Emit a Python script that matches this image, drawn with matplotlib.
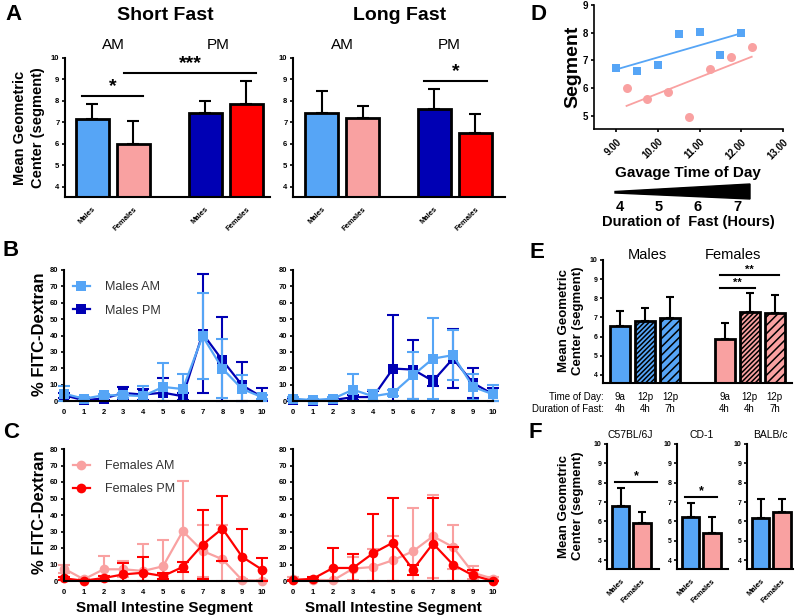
import matplotlib
matplotlib.use("Agg")
import matplotlib.pyplot as plt
import numpy as np
from matplotlib.patches import Polygon

W, H = 800, 616

# ---------------- data ----------------
sex_labels = ["Males", "Females"]
bar_pos = [0, 1, 2.75, 3.75]

# panel A: mean geometric center, short / long fast (AM males, AM females, PM males, PM females)
short_means = [7.15, 6.00, 7.42, 7.85]
short_sd = [0.70, 1.07, 0.58, 1.08]
long_means = [7.42, 7.22, 7.62, 6.50]
long_sd = [1.03, 0.56, 0.93, 0.90]

# panels B/C: % FITC-dextran per small intestine segment
segments = np.arange(11)
b_short_am = [4.5, 1.4, 3.5, 3.5, 3.0, 8.6, 7.3, 39.6, 19.8, 7.3, 2.4]
b_short_am_sd = [4.5, 0.8, 1.0, 1.5, 6.4, 14.7, 9.0, 26.4, 18.0, 8.8, 1.0]
b_short_pm = [3.5, 0.5, 1.5, 4.9, 3.9, 5.1, 2.9, 41.2, 24.9, 9.6, 2.4]
b_short_pm_sd = [1.5, 0.5, 1.0, 3.5, 3.3, 9.2, 2.0, 36.3, 26.5, 14.3, 5.8]
b_long_am = [1.4, 0.6, 1.4, 6.9, 2.9, 4.9, 15.7, 25.9, 28.0, 8.6, 4.1]
b_long_am_sd = [1.0, 0.5, 1.0, 9.8, 4.0, 2.0, 14.5, 24.5, 15.3, 8.1, 5.5]
b_long_pm = [0.6, 0.3, 0.5, 2.4, 2.4, 19.8, 19.2, 12.2, 25.9, 11.0, 4.1]
b_long_pm_sd = [0.5, 0.3, 0.4, 1.5, 3.7, 32.6, 17.9, 3.0, 17.8, 9.2, 4.1]

c_short_am = [7.5, 1.0, 7.1, 7.1, 6.1, 8.9, 30.2, 18.2, 13.2, 0.5, 0.3]
c_short_am_sd = [2.5, 0.5, 7.9, 4.9, 16.6, 16.2, 30.5, 15.6, 21.0, 0.5, 0.3]
c_short_pm = [1.6, 0.2, 1.8, 4.0, 5.0, 3.0, 8.5, 22.0, 31.8, 14.6, 6.9]
c_short_pm_sd = [1.0, 0.2, 1.0, 7.0, 9.6, 2.0, 3.0, 21.0, 19.8, 16.8, 7.1]
c_long_am = [1.4, 0.8, 0.4, 7.5, 8.5, 12.6, 18.0, 27.1, 20.6, 5.0, 1.4]
c_long_am_sd = [0.8, 0.5, 0.4, 7.1, 10.7, 14.5, 26.3, 25.3, 13.2, 3.9, 0.8]
c_long_pm = [0.4, 1.4, 7.9, 7.9, 16.8, 23.3, 6.9, 22.7, 9.9, 3.4, 0.0]
c_long_pm_sd = [0.3, 0.8, 12.1, 8.7, 24.1, 27.1, 3.0, 27.7, 10.5, 3.1, 0.0]

# panel D: segment vs gavage time
d_male_time = [9.0, 9.5, 10.0, 10.5, 11.0, 11.5, 12.0]
d_male_seg = [6.72, 6.62, 6.83, 7.95, 8.02, 7.18, 7.98]
d_female_time = [9.25, 9.75, 10.25, 10.75, 11.25, 11.75, 12.25]
d_female_seg = [6.02, 5.60, 5.85, 4.98, 6.68, 7.13, 7.48]
fast_hours = ["4", "5", "6", "7"]

# panel E
e_pos = [0, 1, 2, 4.18, 5.18, 6.18]
e_means = [6.55, 6.83, 6.97, 5.86, 7.27, 7.23]
e_sd = [0.81, 0.66, 1.10, 0.87, 1.03, 0.95]
e_time = ["9a", "12p", "12p", "9a", "12p", "12p"]
e_fast = ["4h", "4h", "7h", "4h", "4h", "7h"]

# panel F: strains
f_strains = ["C57BL/6J", "CD-1", "BALB/c"]
f_means = [[6.80, 5.92], [6.23, 5.41], [6.18, 6.49]]
f_sd = [[0.92, 0.57], [0.72, 0.82], [0.98, 0.69]]

# colours
LBLUE = "#56a5f6"
DBLUE = "#0000b4"
PINK = "#f9a1a1"
RED = "#ff0000"

plt.rcParams["font.family"] = ["Liberation Sans", "DejaVu Sans"]
plt.rcParams["font.weight"] = "bold"
plt.rcParams["hatch.linewidth"] = 1.1

fig = plt.figure(figsize=(8, 6.16), dpi=100)


def px_axes(x0, y0, x1, y1):
    return fig.add_axes([x0 / W, 1 - y1 / H, (x1 - x0) / W, (y1 - y0) / H])


def ftext(x, y, s, **kw):
    kw.setdefault("ha", "center")
    kw.setdefault("va", "center")
    return fig.text(x / W, 1 - y / H, s, **kw)


def style(ax, fs=5.5):
    for s in ("top", "right"):
        ax.spines[s].set_visible(False)
    for s in ("left", "bottom"):
        ax.spines[s].set_linewidth(1.5)
    ax.tick_params(labelsize=fs, width=1.2, length=2.5, pad=1.5)


def bars(ax, pos, means, sds, colors, hatches=None, capsize=4):
    ax.errorbar(pos, means, yerr=[np.zeros(len(means)), sds], fmt="none",
                ecolor="black", elinewidth=1.5, capsize=capsize, capthick=1.5, zorder=1)
    bs = ax.bar(pos, means, width=0.8, color=colors, edgecolor="black", linewidth=2, zorder=2)
    if hatches:
        for b, h in zip(bs, hatches):
            if h:
                b.set_hatch(h)


def sig(ax, x0, x1, y, label, fs=14, dy=0.05):
    ax.plot([x0, x1], [y, y], color="black", lw=1.5, clip_on=False)
    ax.text((x0 + x1) / 2, y + dy, label, ha="center", va="bottom", fontsize=fs,
            fontweight="bold", clip_on=False)


# ---------------- panel A ----------------
for (x0, x1, xl), means, sds in [((65, 270, -0.67), short_means, short_sd),
                                 ((293, 505, -0.70), long_means, long_sd)]:
    ax = px_axes(x0, 58, x1, 197)
    bars(ax, bar_pos, means, sds, [LBLUE, PINK, DBLUE, RED])
    ax.set_ylim(3.53, 10)
    ax.set_xlim(xl, xl + (x1 - x0) / 41)
    ax.set_yticks(range(4, 11))
    ax.set_xticks(bar_pos, sex_labels * 2, rotation=45, ha="right", rotation_mode="anchor")
    style(ax)
    ax.tick_params(axis="x", length=0, pad=6, labelsize=5.5)
    if x0 == 65:
        sig(ax, -0.26, 1.23, 8.23, "*")
        sig(ax, 0.77, 4.0, 9.3, "***")
    else:
        sig(ax, 2.5, 4.03, 8.93, "*")

ftext(13, 14, "A", fontsize=16)
ftext(165, 15, "Short Fast", fontsize=14)
ftext(400, 15, "Long Fast", fontsize=14)
for x, s in [(113, "AM"), (218, "PM"), (342, "AM"), (449, "PM")]:
    ftext(x, 45, s, fontsize=11, fontweight="normal")
ftext(29, 128, "Mean Geometric\nCenter (segment)", fontsize=10.5, rotation=90, linespacing=1.3)


# ---------------- panels B / C ----------------
def profile(ax, am, am_sd, pm, pm_sd, c_am, c_pm, marker, am_top):
    series = [(pm, pm_sd, c_pm, "PM"), (am, am_sd, c_am, "AM")]
    if not am_top:
        series = series[::-1]
    handles = {}
    for m, sd, col, tag in series:
        m = np.array(m)
        sd = np.array(sd)
        lo = np.minimum(sd, m)
        ax.errorbar(segments, m, yerr=[lo, sd], fmt="none", ecolor=col, elinewidth=1.5,
                    capsize=4, capthick=1.5, clip_on=False)
        ms = 7 if marker == "o" else 6.5
        ln, = ax.plot(segments, m, color=col, lw=1.6, marker=marker, markersize=ms,
                      markeredgewidth=0, clip_on=False)
        handles[tag] = ln
    ax.set_xlim(0, 10)
    ax.set_ylim(0, 80)
    ax.set_xticks(range(11))
    ax.set_yticks(range(0, 81, 10))
    style(ax)
    ax.tick_params(axis="x", length=0, pad=6)
    return handles


for y0, y1, data, cols, mk, names, am_top in [
        (270, 401, [(b_short_am, b_short_am_sd, b_short_pm, b_short_pm_sd),
                    (b_long_am, b_long_am_sd, b_long_pm, b_long_pm_sd)],
         (LBLUE, DBLUE), "s", ("Males AM", "Males PM"), True),
        (449, 581, [(c_short_am, c_short_am_sd, c_short_pm, c_short_pm_sd),
                    (c_long_am, c_long_am_sd, c_long_pm, c_long_pm_sd)],
         (PINK, RED), "o", ("Females AM", "Females PM"), False)]:
    for i, (x0, x1) in enumerate([(64, 262), (293, 493)]):
        ax = px_axes(x0, y0, x1, y1)
        h = profile(ax, *data[i], cols[0], cols[1], mk, am_top)
        if i == 0:
            leg = ax.legend([h["AM"], h["PM"]], list(names), loc="upper left",
                            bbox_to_anchor=(-0.01, 1.0), frameon=False, fontsize=9,
                            handlelength=1.3, labelspacing=0.9, handletextpad=1.2)
            for t in leg.get_texts():
                t.set_fontweight("normal")
                t.set_color("#333333")

ftext(11, 250, "B", fontsize=16)
ftext(11, 432, "C", fontsize=16)
ftext(39, 334, "% FITC-Dextran", fontsize=12, rotation=90)
ftext(39, 512, "% FITC-Dextran", fontsize=12, rotation=90)
ftext(164, 608, "Small Intestine Segment", fontsize=11)
ftext(393, 608, "Small Intestine Segment", fontsize=11)

# ---------------- panel D ----------------
ax = px_axes(594, 5, 783, 129)
for t, s, col, mk, sz in [(d_male_time, d_male_seg, LBLUE, "s", 32),
                          (d_female_time, d_female_seg, PINK, "o", 42)]:
    ax.scatter(t, s, color=col, marker=mk, s=sz, linewidths=0, zorder=3)
    k, b = np.polyfit(t, s, 1)
    xs = np.array([min(t), max(t)])
    ax.plot(xs, k * xs + b, color=col, lw=1.3)
ax.set_xlim(8.47, 13)
ax.set_ylim(4.53, 9)
ax.set_xticks([9, 10, 11, 12, 13], ["9.00", "10.00", "11.00", "12.00", "13.00"],
              rotation=45, ha="right", rotation_mode="anchor")
ax.set_yticks([5, 6, 7, 8, 9])
style(ax, fs=7)
ax.spines["left"].set_linewidth(1.2)
ax.spines["bottom"].set_linewidth(1.2)
ax.tick_params(axis="x", pad=3)
ftext(538, 14, "D", fontsize=16)
ftext(573, 67, "Segment", fontsize=14, rotation=90)
ftext(688, 173, "Gavage Time of Day", fontsize=11)
wedge = [(615, 191.5), (750, 184), (750, 199), (615, 193)]
fig.patches.append(Polygon([(x / W, 1 - y / H) for x, y in wedge], closed=True,
                           transform=fig.transFigure, facecolor="black", edgecolor="black"))
for x, s in zip([620, 659, 698, 737], fast_hours):
    ftext(x, 207, s, fontsize=10.5)
ftext(688, 222, "Duration of  Fast (Hours)", fontsize=10.5)

# ---------------- panel E ----------------
ax = px_axes(603, 260, 792, 383)
bars(ax, e_pos, e_means, e_sd, [LBLUE] * 3 + [PINK] * 3,
     hatches=[None, "///////", "////", None, "///////", "////"], capsize=3)
ax.set_ylim(3.58, 10)
ax.set_xlim(-0.68, -0.68 + 189 / 25)
ax.set_yticks(range(4, 11))
ax.set_xticks([])
style(ax, fs=5)
sig(ax, 4.0, 5.4, 8.55, "**", fs=8, dy=0.0)
sig(ax, 4.0, 6.36, 9.22, "**", fs=8, dy=0.0)
ftext(537, 253, "E", fontsize=16)
ftext(647, 255, "Males", fontsize=10.5, fontweight="normal")
ftext(733, 255, "Females", fontsize=10.5, fontweight="normal")
ftext(571, 321, "Mean Geometric\nCenter (segment)", fontsize=9.5, rotation=90, linespacing=1.3)
ftext(604, 397, "Time of Day:", fontsize=7, ha="right", fontweight="normal")
ftext(604, 409, "Duration of Fast:", fontsize=7, ha="right", fontweight="normal")
for p, t, f in zip(e_pos, e_time, e_fast):
    xp = 603 + (p + 0.68) * 25
    ftext(xp, 397, t, fontsize=7, fontweight="normal")
    ftext(xp, 409, f, fontsize=7, fontweight="normal")

# ---------------- panel F ----------------
for i, (x0, x1, xt) in enumerate([(607, 659, 630), (677, 728, 702), (747, 793, 770)]):
    ax = px_axes(x0, 444, x1, 569)
    bars(ax, [0, 1], f_means[i], f_sd[i], [LBLUE, PINK], capsize=3)
    ax.set_ylim(3.54, 10)
    ax.set_xlim(-0.63, -0.63 + (x1 - x0) / 21.5)
    ax.set_yticks(range(4, 11))
    ax.set_xticks([0, 1], sex_labels, rotation=45, ha="right", rotation_mode="anchor")
    style(ax, fs=5)
    ax.tick_params(axis="x", length=0, pad=6, labelsize=5.5)
    if i == 0:
        sig(ax, -0.26, 1.7, 8.03, "*", fs=9, dy=0.0)
    elif i == 1:
        sig(ax, -0.28, 1.25, 7.25, "*", fs=9, dy=0.0)
    ftext(xt, 435, f_strains[i], fontsize=7.5, fontweight="normal")
ftext(535, 432, "F", fontsize=16)
ftext(571, 506, "Mean Geometric\nCenter (segment)", fontsize=9.5, rotation=90, linespacing=1.3)

fig.savefig("out.png", dpi=100)
